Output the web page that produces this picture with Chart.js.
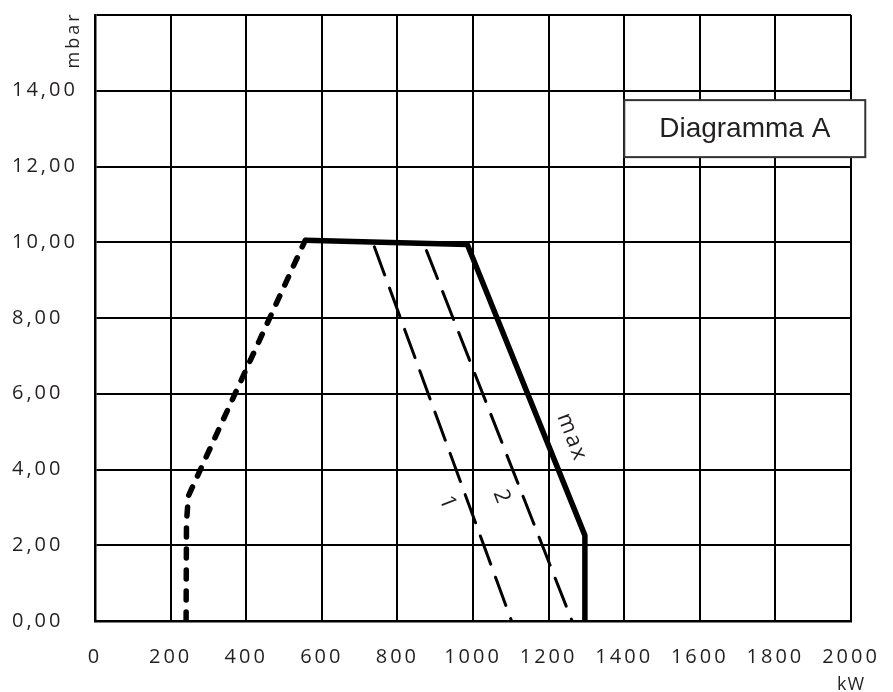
<!DOCTYPE html>
<html>
<head>
<meta charset="utf-8">
<script src="https://cdn.jsdelivr.net/npm/chart.js@4/dist/chart.umd.min.js"></script>
<style>
	html, body { margin: 0; padding: 0; background: #fff; }
	#wrap { width: 893px; height: 692px; }
</style>
</head>
<body>
<div id="wrap"><canvas id="diagramChart" width="893" height="692"></canvas></div>
<script>
// axis ticks
const xTicks = [0, 200, 400, 600, 800, 1000, 1200, 1400, 1600, 1800, 2000];
const yTicks = [0, 2, 4, 6, 8, 10, 12, 14, 16];

// curves (kW, mbar)
const minX = [241, 242, 247, 278, 556];
const minY = [0, 2.6, 3.3, 3.98, 10.05];

const maxX = [556, 985, 1296, 1296];
const maxY = [10.05, 9.94, 2.26, 0];

const curve1X = [739, 1102];
const curve1Y = [9.88, 0];

const curve2X = [877, 1262];
const curve2Y = [9.78, 0];

const curveNames = ['1', '2', 'max'];

const INK = '#231f20';

function toPoints(xs, ys) {
	return xs.map((x, i) => ({ x, y: ys[i] }));
}

function fmtComma(v) {
	return v.toFixed(2).replace('.', ',');
}

// text placed on the plot (anchor in data units)
const curveLabelAt = { '1': [932, 3.13], '2': [1075, 3.29], 'max': [1261, 4.87] };
const boxAt = [1719, 13.0];

const overlayPlugin = {
	id: 'overlay',
	beforeDraw(chart) {
		// wide tracking like the original print
		chart.ctx.letterSpacing = '3px';
	},
	afterDraw(chart) {
		const { ctx, scales } = chart;
		const xs = scales.x;
		const ys = scales.y;

		// rotated curve names
		ctx.save();
		ctx.letterSpacing = '2px';
		ctx.fillStyle = INK;
		ctx.font = '22px "Open Sans"';
		ctx.textAlign = 'center';
		ctx.textBaseline = 'middle';
		curveNames.forEach((name) => {
			const [vx, vy] = curveLabelAt[name];
			ctx.save();
			ctx.translate(xs.getPixelForValue(vx), ys.getPixelForValue(vy));
			ctx.rotate((69 * Math.PI) / 180);
			ctx.fillText(name, 1, 0);
			ctx.restore();
		});
		ctx.restore();

		// "Diagramma A" box
		const bx = xs.getPixelForValue(boxAt[0]);
		const by = ys.getPixelForValue(boxAt[1]);
		ctx.save();
		ctx.letterSpacing = '0px';
		ctx.fillStyle = '#fff';
		ctx.fillRect(bx - 120.5, by - 28.5, 241, 57);
		ctx.strokeStyle = '#333';
		ctx.lineWidth = 2;
		ctx.strokeRect(bx - 120.5, by - 28.5, 241, 57);
		ctx.fillStyle = INK;
		ctx.font = '28px "Liberation Sans", Arial, sans-serif';
		ctx.textAlign = 'center';
		ctx.textBaseline = 'middle';
		ctx.fillText('Diagramma A', bx, by + 1);
		ctx.restore();

		// unit labels
		ctx.save();
		ctx.fillStyle = INK;
		ctx.textAlign = 'center';
		ctx.textBaseline = 'middle';
		ctx.letterSpacing = '1px';
		ctx.font = '18px "Open Sans"';
		ctx.fillText('kW', xs.getPixelForValue(2000), 685);
		ctx.letterSpacing = '3px';
		ctx.translate(74, 40);
		ctx.rotate(-Math.PI / 2);
		ctx.fillText('mbar', 0, 0);
		ctx.restore();
	},
};

const ctx = document.getElementById('diagramChart').getContext('2d');
new Chart(ctx, {
	type: 'scatter',
	data: {
		datasets: [
			{
				label: 'min',
				data: toPoints(minX, minY),
				showLine: true,
				borderColor: '#000',
				borderWidth: 5.5,
				borderDash: [9, 12],
				borderCapStyle: 'round',
				pointRadius: 0,
			},
			{
				label: 'max',
				data: toPoints(maxX, maxY),
				showLine: true,
				borderColor: '#000',
				borderWidth: 5.5,
				borderJoinStyle: 'round',
				pointRadius: 0,
			},
			{
				label: '1',
				data: toPoints(curve1X, curve1Y),
				showLine: true,
				borderColor: '#000',
				borderWidth: 3,
				borderDash: [30, 14],
				borderCapStyle: 'round',
				pointRadius: 0,
			},
			{
				label: '2',
				data: toPoints(curve2X, curve2Y),
				showLine: true,
				borderColor: '#000',
				borderWidth: 3,
				borderDash: [30, 14],
				borderCapStyle: 'round',
				pointRadius: 0,
			},
		],
	},
	options: {
		responsive: false,
		animation: false,
		layout: {
			padding: { left: 12, top: 15, right: 42, bottom: 0 },
		},
		plugins: {
			legend: { display: false },
			tooltip: { enabled: false },
		},
		scales: {
			x: {
				type: 'linear',
				min: 0,
				max: 2000,
				afterBuildTicks: (axis) => {
					axis.ticks = xTicks.map((v) => ({ value: v }));
				},
				afterFit: (axis) => {
					axis.height = 71;
					axis.paddingLeft = 0;
					axis.paddingRight = 0;
				},
				grid: { color: '#000', lineWidth: 2, drawTicks: false },
				border: { color: '#000', width: 2.5 },
				ticks: {
					autoSkip: false,
					maxRotation: 0,
					padding: 24,
					color: INK,
					font: { family: '"Open Sans"', size: 20 },
					callback: (v) => String(v),
				},
			},
			y: {
				type: 'linear',
				min: 0,
				max: 16,
				afterBuildTicks: (axis) => {
					axis.ticks = yTicks.map((v) => ({ value: v }));
				},
				afterFit: (axis) => {
					axis.width = 83;
					axis.paddingTop = 0;
					axis.paddingBottom = 0;
				},
				grid: { color: '#000', lineWidth: 2, drawTicks: false },
				border: { color: '#000', width: 2.5 },
				ticks: {
					autoSkip: false,
					crossAlign: 'far',
					padding: 12,
					color: INK,
					font: { family: '"Open Sans"', size: 20 },
					callback: (v) => (v === 16 ? '' : fmtComma(v)),
				},
			},
		},
	},
	plugins: [overlayPlugin],
});
</script>
</body>
</html>
